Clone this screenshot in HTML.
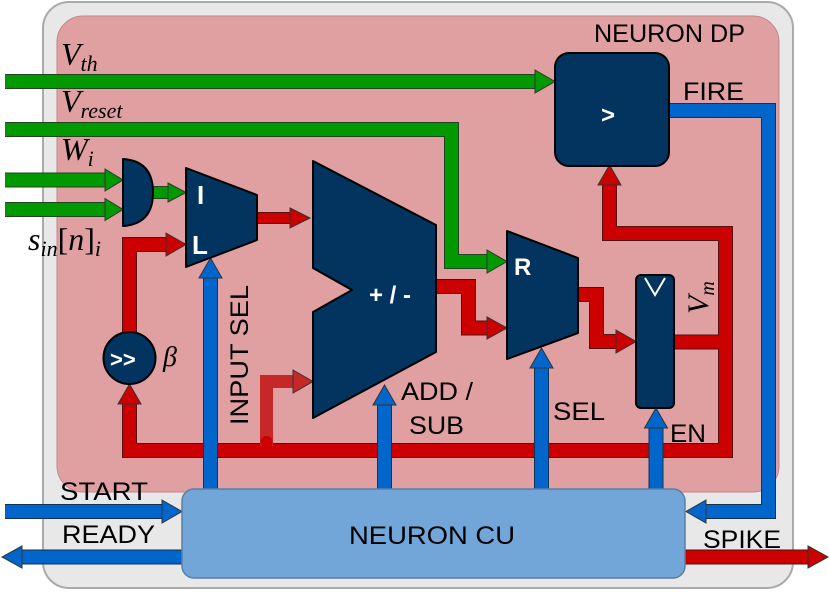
<!DOCTYPE html>
<html><head><meta charset="utf-8"><style>
html,body{margin:0;padding:0;background:#fff}
svg{display:block}
.s{font-family:"Liberation Sans",sans-serif;font-size:25px;fill:#000}
.m{font-family:"Liberation Serif",serif;font-style:italic;fill:#000}
.w{font-family:"Liberation Sans",sans-serif;font-weight:bold;fill:#fff}
</style></head><body>
<svg width="830" height="592" viewBox="0 0 830 592" xmlns="http://www.w3.org/2000/svg">
<rect x="43" y="2" width="750" height="586" rx="26" fill="#e8e8e8" stroke="#aaa" stroke-width="2"/>
<rect x="57" y="16" width="722" height="476" rx="26" fill="#e0a0a2" stroke="#c08888" stroke-width="1"/>

<g fill="none" stroke-linejoin="miter">
<g stroke="#224422" stroke-width="15">
<path d="M5 81.5 H536"/><path d="M5 129.5 H451.5 V261.5 H488"/>
<path d="M5 180 H106"/><path d="M5 209.5 H106"/>
</g>
<g stroke="#009900" stroke-width="13">
<path d="M5 81.5 H536"/><path d="M5 129.5 H451.5 V261.5 H488"/>
<path d="M5 180 H106"/><path d="M5 209.5 H106"/>
</g>
<path d="M152 192.5 H169" stroke="#224422" stroke-width="13"/>
<path d="M152 192.5 H169" stroke="#009900" stroke-width="11"/>

<g stroke="#551111" stroke-width="15">
<path d="M129.5 333 V244.5 H167"/>
<path d="M129.5 403 V450.5 H725.5 V233.5 H609.5 V184"/>
<path d="M674 342 H725.5"/>
<path d="M436 286.5 H468.5 V328 H488"/>
<path d="M578 294.5 H596.5 V341.5 H617"/>
<path d="M685 557 H809"/>
</g>
<g stroke="#cc0000" stroke-width="13">
<path d="M129.5 333 V244.5 H167"/>
<path d="M129.5 403 V450.5 H725.5 V233.5 H609.5 V184"/>
<path d="M674 342 H725.5"/>
<path d="M436 286.5 H468.5 V328 H488"/>
<path d="M578 294.5 H596.5 V341.5 H617"/>
<path d="M685 557 H809"/>
</g>
<path d="M257 218 H291" stroke="#551111" stroke-width="12"/>
<path d="M257 218 H291" stroke="#cc0000" stroke-width="10"/>
<path d="M266.5 446 V381.5 H294" stroke="#c62828" stroke-width="13"/>

<g stroke="#113355" stroke-width="15">
<path d="M210.5 489 V277"/><path d="M384.5 489 V404"/><path d="M541.5 489 V367"/><path d="M656 489 V427"/>
<path d="M670 110.5 H768.5 V511.5 H705"/>
<path d="M5 511.5 H163"/><path d="M182 557 H21"/>
</g>
<g stroke="#0066cc" stroke-width="13">
<path d="M210.5 489 V277"/><path d="M384.5 489 V404"/><path d="M541.5 489 V367"/><path d="M656 489 V427"/>
<path d="M670 110.5 H768.5 V511.5 H705"/>
<path d="M5 511.5 H163"/><path d="M182 557 H21"/>
</g>
</g>
<circle cx="266.5" cy="442" r="6" fill="#cc0000"/>

<g stroke="#333" stroke-width="1">
<polygon fill="#009900" points="535,70 555,81.5 535,93"/>
<polygon fill="#009900" points="487,250 507,261.5 487,273"/>
<polygon fill="#009900" points="105,169 123,180 105,191"/>
<polygon fill="#009900" points="105,198.5 123,209.5 105,220.5"/>
<polygon fill="#009900" points="168,183 186,192.5 168,202"/>
<polygon fill="#cc0000" points="166,233 186,244.5 166,256"/>
<polygon fill="#cc0000" points="118,404 129.5,384 141,404"/>
<polygon fill="#cc0000" points="598,185 609.5,165 621,185"/>
<polygon fill="#cc0000" points="290,208 310,218 290,228"/>
<polygon fill="#cc0000" points="487,317 507,328 487,339"/>
<polygon fill="#cc0000" points="616,330 636,341.5 616,353"/>
<polygon fill="#cc0000" points="808,546 828,557 808,568"/>
<polygon fill="#c62828" points="293,370 313,381.5 293,393"/>
<polygon fill="#0066cc" points="199,278 210.5,258 222,278"/>
<polygon fill="#0066cc" points="373,405 384.5,385 396,405"/>
<polygon fill="#0066cc" points="530,368 541.5,348 553,368"/>
<polygon fill="#0066cc" points="644.5,428 656,408 667.5,428"/>
<polygon fill="#0066cc" points="706,500 686,511.5 706,523"/>
<polygon fill="#0066cc" points="162,500 182,511.5 162,523"/>
<polygon fill="#0066cc" points="22,546 2,557 22,568"/>
</g>

<g fill="#03345f" stroke="#000" stroke-width="2" stroke-linejoin="round">
<rect x="555" y="53" width="114" height="113" rx="14"/>
<path d="M123 159 Q153 161 153 192.5 Q153 224 123 226 Z"/>
<polygon points="186,168 257,195 257,240 186,267"/>
<polygon points="313,161 436,225 436,352 313,418 313,312 352,290 313,268"/>
<polygon points="507,231 578,258 578,333 507,359"/>
<rect x="636" y="275" width="38" height="133" rx="5"/>
<circle cx="129.5" cy="358" r="26"/>
</g>
<polyline points="645,278 655,295 665,278" fill="none" stroke="#fff" stroke-width="2"/>
<rect x="182" y="489" width="503" height="89" rx="12" fill="#72a6d8" stroke="#5b7fa6" stroke-width="1.5"/>

<text class="w" x="197" y="204" font-size="26">I</text>
<text class="w" x="192" y="254" font-size="26">L</text>
<text class="w" x="514" y="275" font-size="24">R</text>
<text class="w" x="369" y="303" font-size="24">+ / -</text>
<text class="w" x="601" y="123" font-size="24">&gt;</text>
<text class="w" x="110" y="367" font-size="22">&gt;&gt;</text>

<text class="s" x="594" y="42" textLength="151" lengthAdjust="spacingAndGlyphs">NEURON DP</text>
<text class="s" x="683" y="100" textLength="61" lengthAdjust="spacingAndGlyphs">FIRE</text>
<text class="s" x="60" y="500" textLength="88" lengthAdjust="spacingAndGlyphs">START</text>
<text class="s" x="62" y="543" textLength="93" lengthAdjust="spacingAndGlyphs">READY</text>
<text class="s" x="703" y="548" textLength="78" lengthAdjust="spacingAndGlyphs">SPIKE</text>
<text class="s" x="349" y="544" font-size="28" textLength="166" lengthAdjust="spacingAndGlyphs">NEURON CU</text>
<text class="s" x="401" y="400" textLength="72" lengthAdjust="spacingAndGlyphs">ADD /</text>
<text class="s" x="409" y="434" textLength="55" lengthAdjust="spacingAndGlyphs">SUB</text>
<text class="s" x="553" y="420" textLength="52" lengthAdjust="spacingAndGlyphs">SEL</text>
<text class="s" x="670" y="442" textLength="36" lengthAdjust="spacingAndGlyphs">EN</text>
<text class="s" x="0" y="0" transform="translate(248,425) rotate(-90)" textLength="140" lengthAdjust="spacingAndGlyphs">INPUT SEL</text>

<text class="m" x="61" y="65" font-size="32">V<tspan font-size="22" dy="6">th</tspan></text>
<text class="m" x="61" y="112" font-size="32">V<tspan font-size="22" dy="6">reset</tspan></text>
<text class="m" x="61" y="160" font-size="32">W<tspan font-size="22" dy="6">i</tspan></text>
<text class="m" x="28" y="250" font-size="32">s<tspan font-size="22" dy="6">in</tspan><tspan dy="-6" font-style="normal">[</tspan>n<tspan font-style="normal">]</tspan><tspan font-size="22" dy="6">i</tspan></text>
<text class="m" x="163" y="366" font-size="28">β</text>
<text class="m" x="0" y="0" font-size="30" transform="translate(708,314) rotate(-90)">V<tspan font-size="20" dy="6">m</tspan></text>
</svg>
</body></html>
